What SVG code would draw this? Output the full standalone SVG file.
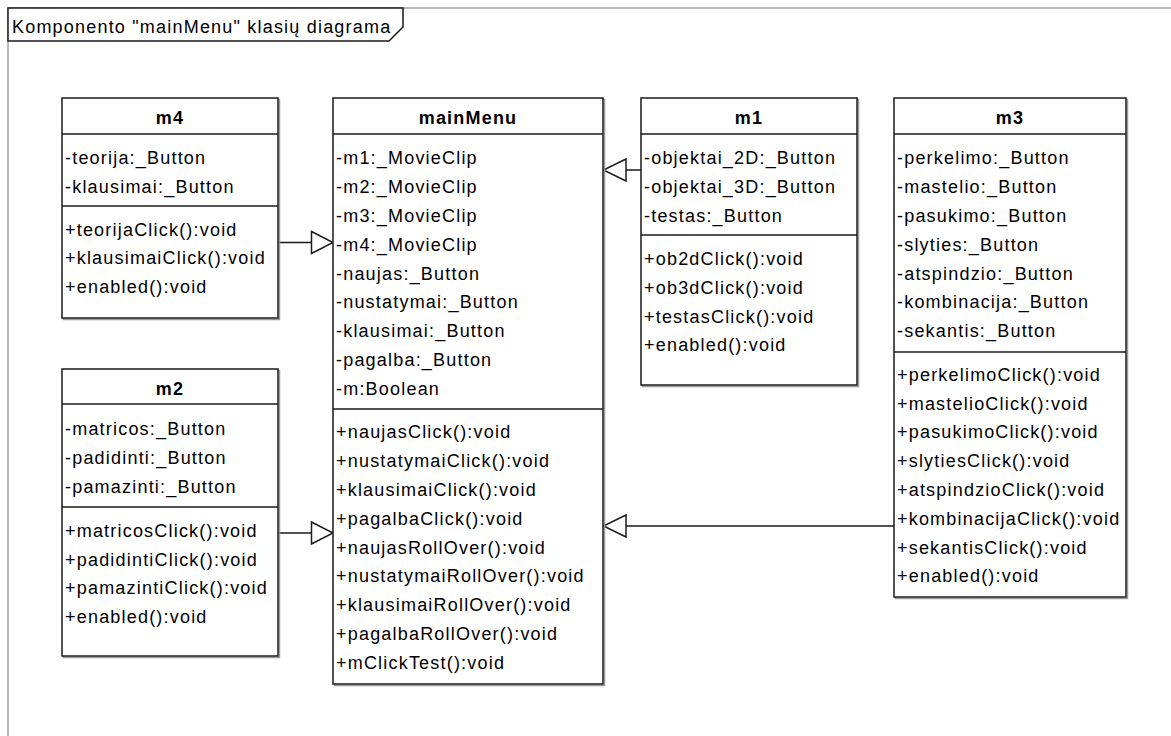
<svg xmlns="http://www.w3.org/2000/svg" width="1171" height="736" viewBox="0 0 1171 736">
  <style>
    .box { fill: #ffffff; stroke: #1a1a1a; stroke-width: 1.5; }
    .shadow { fill: none; stroke: #9a9a9a; stroke-width: 1.5; }
    .sep { stroke: #1a1a1a; stroke-width: 1.5; }
    .title { font-family: "Liberation Sans", Arial, sans-serif; font-size: 18px; font-weight: bold; letter-spacing: 1.2px; text-anchor: middle; fill: #000; }
    .row { font-family: "Liberation Sans", Arial, sans-serif; font-size: 18px; letter-spacing: 1.2px; fill: #000; }
    .edge { fill: none; stroke: #1a1a1a; stroke-width: 1.5; }
    .head { fill: #ffffff; stroke: #1a1a1a; stroke-width: 1.5; }
    .frame { fill: none; stroke: #a0a0a0; stroke-width: 1.5; }
  </style>

  <rect width="1171" height="736" fill="#ffffff"/>

  <!-- diagram frame -->
  <g id="frame">
    <path class="frame" d="M8 736 V8 H1171"/>
    <path d="M8 8 H403 V27 L389 41 H8 Z" fill="#ffffff" stroke="#1a1a1a" stroke-width="1.5"/>
    <text class="row" x="12" y="33" letter-spacing="1px">Komponento "mainMenu" klasių diagrama</text>
  </g>

  <!-- generalization connectors -->
  <g id="connectors">
    <path class="edge" d="M278 242.5 H311.5"/>
    <polygon class="head" points="311.5,231.5 333,242.5 311.5,253.5"/>
    <path class="edge" d="M278 533 H311.5"/>
    <polygon class="head" points="311.5,522 333,533 311.5,544"/>
    <path class="edge" d="M641 170 H626"/>
    <polygon class="head" points="626,159 603.5,170 626,181"/>
    <path class="edge" d="M894 526 H626"/>
    <polygon class="head" points="626,515 603.5,526 626,537"/>
  </g>

  <!-- class m4 -->
  <g id="m4">
    <rect class="shadow" x="63.5" y="99.5" width="216" height="220"/>
    <rect class="box" x="62" y="98" width="216" height="220"/>
    <line class="sep" x1="62" y1="134" x2="278" y2="134"/>
    <line class="sep" x1="62" y1="206" x2="278" y2="206"/>
    <text class="title" x="170" y="124">m4</text>
    <text class="row" x="65" y="164">-teorija:_Button</text>
    <text class="row" x="65" y="193">-klausimai:_Button</text>
    <text class="row" x="65" y="235.5">+teorijaClick():void</text>
    <text class="row" x="65" y="264.3">+klausimaiClick():void</text>
    <text class="row" x="65" y="293.1">+enabled():void</text>
  </g>

  <!-- class m2 -->
  <g id="m2">
    <rect class="shadow" x="63.5" y="370.5" width="216" height="287"/>
    <rect class="box" x="62" y="369" width="216" height="287"/>
    <line class="sep" x1="62" y1="404" x2="278" y2="404"/>
    <line class="sep" x1="62" y1="507" x2="278" y2="507"/>
    <text class="title" x="170" y="395">m2</text>
    <text class="row" x="65" y="435">-matricos:_Button</text>
    <text class="row" x="65" y="463.8">-padidinti:_Button</text>
    <text class="row" x="65" y="492.6">-pamazinti:_Button</text>
    <text class="row" x="65" y="536.7">+matricosClick():void</text>
    <text class="row" x="65" y="565.5">+padidintiClick():void</text>
    <text class="row" x="65" y="594.3">+pamazintiClick():void</text>
    <text class="row" x="65" y="623.1">+enabled():void</text>
  </g>

  <!-- class mainMenu -->
  <g id="mainMenu">
    <rect class="shadow" x="334.5" y="99.5" width="270" height="586"/>
    <rect class="box" x="333" y="98" width="270" height="586"/>
    <line class="sep" x1="333" y1="134" x2="603" y2="134"/>
    <line class="sep" x1="333" y1="409" x2="603" y2="409"/>
    <text class="title" x="468" y="124">mainMenu</text>
    <text class="row" x="336" y="164.3">-m1:_MovieClip</text>
    <text class="row" x="336" y="193.1">-m2:_MovieClip</text>
    <text class="row" x="336" y="221.9">-m3:_MovieClip</text>
    <text class="row" x="336" y="250.7">-m4:_MovieClip</text>
    <text class="row" x="336" y="279.5">-naujas:_Button</text>
    <text class="row" x="336" y="308.3">-nustatymai:_Button</text>
    <text class="row" x="336" y="337.1">-klausimai:_Button</text>
    <text class="row" x="336" y="365.9">-pagalba:_Button</text>
    <text class="row" x="336" y="394.7">-m:Boolean</text>
    <text class="row" x="336" y="438.3">+naujasClick():void</text>
    <text class="row" x="336" y="467.1">+nustatymaiClick():void</text>
    <text class="row" x="336" y="495.9">+klausimaiClick():void</text>
    <text class="row" x="336" y="524.7">+pagalbaClick():void</text>
    <text class="row" x="336" y="553.5">+naujasRollOver():void</text>
    <text class="row" x="336" y="582.3">+nustatymaiRollOver():void</text>
    <text class="row" x="336" y="611.1">+klausimaiRollOver():void</text>
    <text class="row" x="336" y="639.9">+pagalbaRollOver():void</text>
    <text class="row" x="336" y="668.7">+mClickTest():void</text>
  </g>

  <!-- class m1 -->
  <g id="m1">
    <rect class="shadow" x="642.5" y="99.5" width="216" height="287"/>
    <rect class="box" x="641" y="98" width="216" height="287"/>
    <line class="sep" x1="641" y1="134" x2="857" y2="134"/>
    <line class="sep" x1="641" y1="235" x2="857" y2="235"/>
    <text class="title" x="749" y="124">m1</text>
    <text class="row" x="644" y="164.3">-objektai_2D:_Button</text>
    <text class="row" x="644" y="193.1">-objektai_3D:_Button</text>
    <text class="row" x="644" y="221.9">-testas:_Button</text>
    <text class="row" x="644" y="265">+ob2dClick():void</text>
    <text class="row" x="644" y="293.8">+ob3dClick():void</text>
    <text class="row" x="644" y="322.6">+testasClick():void</text>
    <text class="row" x="644" y="351.4">+enabled():void</text>
  </g>

  <!-- class m3 -->
  <g id="m3">
    <rect class="shadow" x="895.5" y="99.5" width="232" height="499"/>
    <rect class="box" x="894" y="98" width="232" height="499"/>
    <line class="sep" x1="894" y1="134" x2="1126" y2="134"/>
    <line class="sep" x1="894" y1="352" x2="1126" y2="352"/>
    <text class="title" x="1010" y="124">m3</text>
    <text class="row" x="897" y="164.3">-perkelimo:_Button</text>
    <text class="row" x="897" y="193.1">-mastelio:_Button</text>
    <text class="row" x="897" y="221.9">-pasukimo:_Button</text>
    <text class="row" x="897" y="250.7">-slyties:_Button</text>
    <text class="row" x="897" y="279.5">-atspindzio:_Button</text>
    <text class="row" x="897" y="308.3">-kombinacija:_Button</text>
    <text class="row" x="897" y="337.1">-sekantis:_Button</text>
    <text class="row" x="897" y="380.7">+perkelimoClick():void</text>
    <text class="row" x="897" y="409.5">+mastelioClick():void</text>
    <text class="row" x="897" y="438.3">+pasukimoClick():void</text>
    <text class="row" x="897" y="467.1">+slytiesClick():void</text>
    <text class="row" x="897" y="495.9">+atspindzioClick():void</text>
    <text class="row" x="897" y="524.7">+kombinacijaClick():void</text>
    <text class="row" x="897" y="553.5">+sekantisClick():void</text>
    <text class="row" x="897" y="582.3">+enabled():void</text>
  </g>
</svg>
